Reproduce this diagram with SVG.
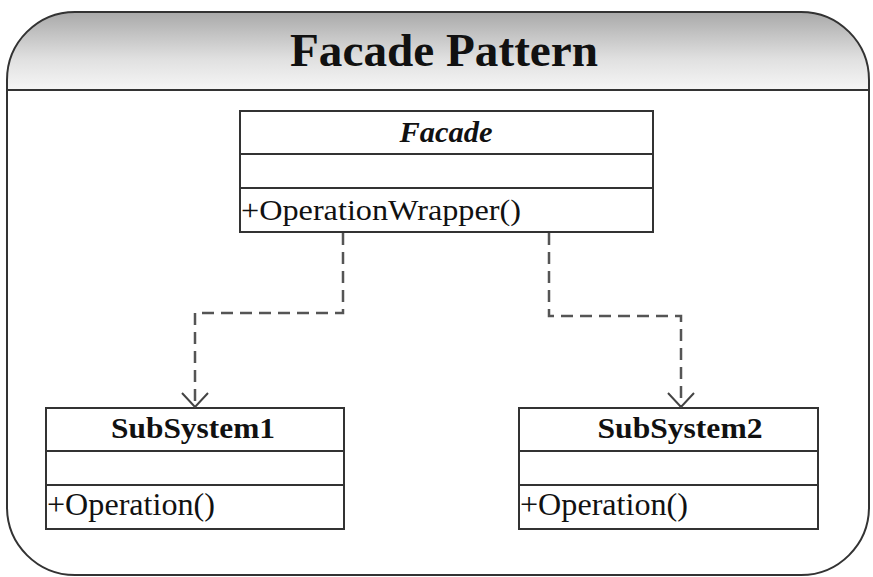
<svg xmlns="http://www.w3.org/2000/svg" width="873" height="577" viewBox="0 0 873 577">
<defs>
<linearGradient id="hdr" x1="0" y1="0" x2="0" y2="1">
<stop offset="0" stop-color="#a9a9a9"/>
<stop offset="0.6" stop-color="#e0e0e0"/>
<stop offset="1" stop-color="#f6f6f6"/>
</linearGradient>
<clipPath id="frameClip"><rect x="7" y="12" width="862" height="563" rx="68" ry="68"/></clipPath>
<marker id="open" viewBox="-1 -15 16 30" refX="14" refY="0" markerWidth="16" markerHeight="30" markerUnits="userSpaceOnUse" orient="auto">
<path d="M0,-13 L14,0 L0,13" fill="none" stroke="#444" stroke-width="2"/>
</marker>
<style>
.box{fill:#fff;stroke:#333;stroke-width:2}
.sep{stroke:#333;stroke-width:2}
.t{fill:#111}
.b{font-weight:bold}
.conn{fill:none;stroke:#555;stroke-width:2.5;stroke-dasharray:12 7}
</style>
</defs>
<g id="frame">
<rect x="7" y="12" width="862" height="563" rx="68" ry="68" fill="#fff"/>
<rect x="7" y="12" width="862" height="78" fill="url(#hdr)" clip-path="url(#frameClip)"/>
<rect x="7" y="12" width="862" height="563" rx="68" ry="68" fill="none" stroke="#333" stroke-width="2"/>
<line x1="7" y1="90" x2="869" y2="90" stroke="#333" stroke-width="2"/>
<text class="t b" font-family="Liberation Serif, Times New Roman, serif" x="444" y="66" font-size="46" text-anchor="middle" textLength="308" lengthAdjust="spacingAndGlyphs">Facade Pattern</text>
</g>
<g id="facade">
<rect class="box" x="240" y="111" width="413" height="121"/>
<line class="sep" x1="240" y1="154" x2="653" y2="154"/>
<line class="sep" x1="240" y1="188" x2="653" y2="188"/>
<text class="t b" font-family="Liberation Serif, Times New Roman, serif" x="446" y="142" font-size="29" font-style="italic" text-anchor="middle" textLength="93" lengthAdjust="spacingAndGlyphs">Facade</text>
<text class="t" font-family="Liberation Serif, Times New Roman, serif" x="241" y="220" font-size="30" textLength="280" lengthAdjust="spacingAndGlyphs">+OperationWrapper()</text>
</g>
<g id="subsystem1">
<rect class="box" x="46" y="408" width="298" height="121"/>
<line class="sep" x1="46" y1="451" x2="344" y2="451"/>
<line class="sep" x1="46" y1="485" x2="344" y2="485"/>
<text class="t b" font-family="Liberation Serif, Times New Roman, serif" x="193" y="438" font-size="30" text-anchor="middle" textLength="164" lengthAdjust="spacingAndGlyphs">SubSystem1</text>
<text class="t" font-family="Liberation Serif, Times New Roman, serif" x="47" y="515" font-size="31" textLength="168" lengthAdjust="spacingAndGlyphs">+Operation()</text>
</g>
<g id="subsystem2">
<rect class="box" x="519" y="408" width="299" height="121"/>
<line class="sep" x1="519" y1="451" x2="818" y2="451"/>
<line class="sep" x1="519" y1="485" x2="818" y2="485"/>
<text class="t b" font-family="Liberation Serif, Times New Roman, serif" x="680" y="438" font-size="30" text-anchor="middle" textLength="165" lengthAdjust="spacingAndGlyphs">SubSystem2</text>
<text class="t" font-family="Liberation Serif, Times New Roman, serif" x="520" y="515" font-size="31" textLength="168" lengthAdjust="spacingAndGlyphs">+Operation()</text>
</g>
<g id="connectors">
<path class="conn" d="M343,233 V313 H195 V407" marker-end="url(#open)"/>
<path class="conn" d="M549,233 V316 H681 V407" marker-end="url(#open)"/>
</g>
</svg>
